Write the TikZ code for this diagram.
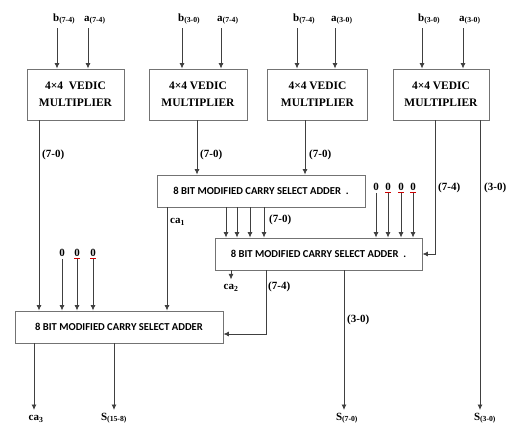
\documentclass[tikz,border=0pt]{standalone}
\usepackage{fontspec}
\setmainfont{Liberation Serif}
\newfontfamily\tnr{Liberation Serif}
\newfontfamily\csafont{Carlito}
\usetikzlibrary{arrows.meta}
\begin{document}
\begin{tikzpicture}[x=1pt,y=-1pt,
  wire/.style={draw=black!75, line width=0.8pt},
  arr/.style={wire,-{Latex[length=5.5pt,width=5pt]}},
  multbox/.style={draw=black!55, line width=0.9pt, inner sep=0pt, minimum height=51pt, align=center,
     font=\tnr\bfseries\fontsize{11.5}{17}\selectfont},
  csabox/.style={draw=black!55, line width=0.9pt, inner sep=0pt, minimum width=208pt, minimum height=32pt,
     font=\csafont\bfseries\fontsize{10.6}{12}\selectfont},
  lbl/.style={inner sep=0pt, font=\tnr\bfseries\fontsize{11}{13}\selectfont},
  inlbl/.style={inner sep=0pt, anchor=base west, font=\tnr\bfseries\fontsize{11}{13}\selectfont},
  redmark/.style={draw=red!80!black, line width=0.6pt}
]
\useasboundingbox (0,0) rectangle (513,426);

% multipliers
\node[multbox, minimum width=97pt]  (m1) at (75.5,94.5) {4×4\ \ VEDIC\\MULTIPLIER};
\node[multbox, minimum width=98pt]  (m2) at (198,94.5) {4×4 VEDIC\\MULTIPLIER};
\node[multbox, minimum width=100pt] (m3) at (317.5,94.5) {4×4 VEDIC\\MULTIPLIER};
\node[multbox, minimum width=96pt]  (m4) at (441,94.5) {4×4 VEDIC\\MULTIPLIER};

% input labels
\node[inlbl] (lb1) at (53,21) {b\textsubscript{(7-4)}};
\node[inlbl] (la1) at (84,21) {a\textsubscript{(7-4)}};
\node[inlbl] (lb2) at (178,21) {b\textsubscript{(3-0)}};
\node[inlbl] (la2) at (217,21) {a\textsubscript{(7-4)}};
\node[inlbl] (lb3) at (293,21) {b\textsubscript{(7-4)}};
\node[inlbl] (la3) at (331,21) {a\textsubscript{(3-0)}};
\node[inlbl] (lb4) at (418,21) {b\textsubscript{(3-0)}};
\node[inlbl] (la4) at (459,21) {a\textsubscript{(3-0)}};
\coordinate (ib1) at (57,28);
\coordinate (ia1) at (88,28);
\coordinate (ib2) at (182,28);
\coordinate (ia2) at (221,28);
\coordinate (ib3) at (297,28);
\coordinate (ia3) at (335,28);
\coordinate (ib4) at (422,28);
\coordinate (ia4) at (463,28);
\foreach \c/\m in {ib1/m1,ia1/m1,ib2/m2,ia2/m2,ib3/m3,ia3/m3,ib4/m4,ia4/m4}
  \draw[arr] (\c) -- (\c |- \m.north);

% adders
\node[csabox] (c1) at (261,191) {8 BIT MODIFIED CARRY SELECT ADDER\ \ .};
\node[csabox, minimum width=207pt] (c2) at (318.5,254) {8 BIT MODIFIED CARRY SELECT ADDER\ \ .};
\node[csabox] (c3) at (119,327) {8 BIT MODIFIED CARRY SELECT ADDER};

% x positions
\coordinate (xA) at (39,0);
\coordinate (xB) at (197,0);
\coordinate (xC) at (305,0);
\coordinate (xD) at (435,0);
\coordinate (xE) at (480,0);
\coordinate (xF) at (167,0);
\coordinate (xG1) at (226,0);
\coordinate (xG2) at (237,0);
\coordinate (xG3) at (250,0);
\coordinate (xG4) at (264,0);
\coordinate (xH) at (266,0);
\coordinate (xI) at (344,0);
\coordinate (xJ) at (231,0);
\coordinate (xK) at (34,0);
\coordinate (xL) at (114,0);

% multiplier outputs
\draw[arr] (m1.south -| xA) -- (c3.north -| xA);
\draw[arr] (m2.south -| xB) -- (c1.north -| xB);
\draw[arr] (m3.south -| xC) -- (c1.north -| xC);
\draw[arr] (m4.south -| xD) |- (c2.east);
\node[lbl, anchor=west] (t1) at (42,155) {(7-0)};
\node[lbl, anchor=west] (t2) at (200,155) {(7-0)};
\node[lbl, anchor=west] (t3) at (309,155) {(7-0)};
\node[lbl, anchor=west] (t4) at (438,188) {(7-4)};
\node[lbl, anchor=west] (t5) at (484,188) {(3-0)};

% adder 1 outputs
\draw[arr] (c1.south -| xF) -- (c3.north -| xF);
\node[lbl, anchor=west] (ca1) at (170,222) {ca\textsubscript{1}};
\foreach \g in {xG1,xG2,xG3,xG4}
  \draw[arr] (c1.south -| \g) -- (c2.north -| \g);
\node[lbl, anchor=west] (t6) at (269,220) {(7-0)};

% zeros into adder 2
\node[lbl] (z1) at (376,187) {0};
\node[lbl] (z2) at (388,187) {0};
\node[lbl] (z3) at (401,187) {0};
\node[lbl] (z4) at (413,187) {0};
\foreach \z in {z1,z2,z3,z4}
  \draw[arr] (\z.south) ++(0,2) -- (c2.north -| \z);
\foreach \z in {z2,z3,z4}
  \draw[redmark] ([xshift=-3pt,yshift=-1.5pt]\z.south) -- ([xshift=3pt,yshift=-1.5pt]\z.south);

% adder 2 outputs
\draw[arr] (c2.south -| xJ) -- ++(0,9) coordinate (ca2t);
\node[lbl] (ca2) at (231,288) {ca\textsubscript{2}};
\draw[arr] (c2.south -| xH) |- ([yshift=-7pt]c3.east);
\node[lbl, anchor=west] (t7) at (268,287) {(7-4)};
\coordinate (sB) at (344,410);
\draw[arr] (c2.south -| xI) -- (sB);
\node[lbl, anchor=west] (t8) at (347,320) {(3-0)};

% zeros into adder 3
\node[lbl] (y1) at (62,253) {0};
\node[lbl] (y2) at (77,253) {0};
\node[lbl] (y3) at (93,253) {0};
\foreach \z in {y1,y2,y3}
  \draw[arr] (\z.south) ++(0,2) -- (c3.north -| \z);
\foreach \z in {y2,y3}
  \draw[redmark] ([xshift=-3pt,yshift=-1.5pt]\z.south) -- ([xshift=3pt,yshift=-1.5pt]\z.south);

% final outputs
\coordinate (sA) at (34,410);
\coordinate (sC) at (114,410);
\coordinate (sD) at (480,410);
\draw[arr] (c3.south -| xK) -- (sA);
\draw[arr] (c3.south -| xL) -- (sC);
\draw[arr] (m4.south -| xE) -- (sD);
\node[lbl] (ca3) at (36,419) {ca\textsubscript{3}};
\node[lbl] (s1) at (114,418) {S\textsubscript{(15-8)}};
\node[lbl] (s2) at (347,418) {S\textsubscript{(7-0)}};
\node[lbl] (s3) at (485,418) {S\textsubscript{(3-0)}};
\end{tikzpicture}
\end{document}
